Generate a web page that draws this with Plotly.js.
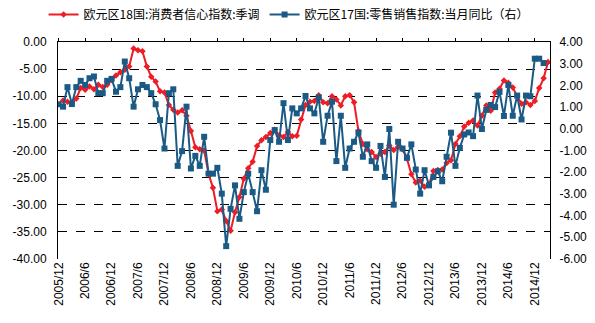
<!DOCTYPE html>
<html>
<head>
<meta charset="utf-8">
<script src="https://cdn.plot.ly/plotly-3.0.1.min.js"></script>
<style>html,body{margin:0;padding:0;background:#fff}#chart{width:595px;height:323px}</style>
</head>
<body>
<div id="chart"></div>
<script>
// Months from 2005/12 to 2015/3
const months = [];
for (let y = 2005, m = 12; y < 2015 || (y === 2015 && m <= 3); ) {
  months.push(y + '/' + m);
  m++; if (m > 12) { m = 1; y++; }
}
// Consumer confidence (left axis), starts 2006/1
const confidence = [null,
 -10.8,-11.0,-11.4,-10.4,-8.5,-8.8,-8.2,-8.7,-7.9,-8.3,-7.9,-7.0,
 -6.2,-5.6,-5.1,-4.5,-1.2,-1.5,-1.7,-4.5,-6.4,-7.3,-9.1,-9.3,
 -11.6,-12.5,-13.0,-12.6,-13.6,-16.4,-19.4,-19.8,-20.0,-24.3,-26.9,-31.2,
 -30.9,-33.0,-34.8,-31.4,-28.6,-25.2,-23.3,-22.1,-19.2,-18.1,-17.5,-16.8,
 -16.2,-17.2,-17.5,-16.6,-17.4,-17.3,-14.3,-11.6,-11.0,-10.9,-9.8,-11.1,
 -11.3,-10.0,-10.6,-11.7,-10.0,-9.8,-11.1,-16.4,-18.8,-19.8,-20.3,-21.2,
 -20.6,-20.3,-19.1,-19.9,-19.3,-19.8,-21.5,-24.4,-25.9,-25.6,-26.7,-26.3,
 -23.8,-23.6,-23.5,-22.3,-21.8,-18.8,-17.4,-15.6,-14.9,-14.5,-15.4,-13.6,
 -11.7,-12.7,-9.3,-8.6,-7.1,-7.5,-8.4,-10.0,-11.4,-11.1,-11.6,-10.9,
 -8.5,-6.7,-3.7];
// Retail sales YoY (right axis), 2005/12 to 2015/2
const retail = [
 1.13,1.02,1.92,1.14,1.92,2.21,2.02,2.33,2.41,1.64,1.64,2.21,
 2.30,1.71,1.92,3.10,2.33,1.02,1.82,2.02,1.92,1.64,1.13,0.40,
 -0.91,1.64,1.82,-1.71,-1.03,1.02,-1.83,-1.25,-1.71,-0.37,-2.07,-2.07,
 -1.80,-2.99,-5.41,-3.69,-2.61,-4.15,-2.92,-2.07,-2.92,-3.80,-1.91,-2.81,
 -0.52,-0.06,-0.60,1.18,-0.52,0.94,0.71,0.94,1.51,0.94,0.71,1.44,
 -0.60,0.60,1.25,-1.49,0.60,-1.80,-0.91,-0.60,-0.17,-1.29,-0.72,-1.49,
 -1.80,-0.79,-2.22,-0.01,-3.50,-0.60,-0.91,-1.34,-0.72,-1.88,-2.99,-1.91,
 -2.61,-2.22,-1.96,-2.42,-1.29,-0.18,-1.71,-0.88,-0.26,-0.17,-0.34,1.53,
 -0.01,0.87,1.10,1.00,1.70,0.59,2.02,0.60,1.53,0.43,1.53,1.50,
 3.23,3.23,3.03];
const tickLabels = ['2005/12','2006/6','2006/12','2007/6','2007/12','2008/6','2008/12','2009/6','2009/12','2010/6','2010/12','2011/6','2011/12','2012/6','2012/12','2013/6','2013/12','2014/6','2014/12'];
const leftTicks = [0,-5,-10,-15,-20,-25,-30,-35,-40];
const rightTicks = [4,3,2,1,0,-1,-2,-3,-4,-5,-6];
const names = ['欧元区18国:消费者信心指数:季调','欧元区17国:零售销售指数:当月同比（右）'];

const RED = '#ee1c25', BLUE = '#1a5a84';
const idx = months.map((_, i) => i);
const tickIdx = tickLabels.map(t => months.indexOf(t));
const xr = [-0.15, 111.45];

const traces = [
 {x: idx, y: confidence, name: names[0], type: 'scatter', mode: 'lines+markers',
  line: {color: RED, width: 2}, marker: {symbol: 'diamond', size: 5, color: RED}, yaxis: 'y', xaxis: 'x'},
 {x: idx.slice(0, retail.length), y: retail, name: names[1], type: 'scatter', mode: 'lines+markers',
  line: {color: BLUE, width: 2}, marker: {symbol: 'square', size: 6, color: BLUE}, yaxis: 'y2', xaxis: 'x'}
];

const tickFont = {family: 'Liberation Sans, Arial, sans-serif', size: 12, color: '#000'};
const layout = {
  width: 595, height: 323,
  margin: {l: 58, r: 45, t: 42, b: 64, pad: 0},
  paper_bgcolor: '#fff', plot_bgcolor: '#fff',
  showlegend: true,
  legend: {orientation: 'h', x: 0.485, xanchor: 'center', xref: 'container', y: 1, yanchor: 'top', yref: 'container',
           font: {family: 'Noto Sans CJK SC, sans-serif', size: 12, color: '#000'}, itemwidth: 30, tracegroupgap: 0,
           bgcolor: 'rgba(0,0,0,0)'},
  xaxis: {range: xr, tickmode: 'array', tickvals: tickIdx, ticktext: tickLabels, tickangle: -90,
          showline: false, showgrid: false, zeroline: false, ticks: '', tickfont: {family: 'Liberation Sans, Arial, sans-serif', size: 12, color: '#000'}},
  xaxis2: {range: xr, overlaying: 'x', side: 'top', anchor: 'y', tickmode: 'array', tickvals: tickIdx,
           showticklabels: false, showline: true, linecolor: '#000', linewidth: 1, ticks: 'outside', ticklen: 3,
           tickcolor: '#000', showgrid: false, zeroline: false},
  yaxis: {range: [-40.02, 0], tickmode: 'array', tickvals: leftTicks, ticktext: leftTicks.map(v => v.toFixed(2)),
          showline: true, linecolor: '#000', linewidth: 1, ticks: '', showgrid: true, gridcolor: '#000', gridwidth: 1,
          griddash: 'dash', zeroline: false, tickfont: tickFont, ticklabelstandoff: 8},
  yaxis2: {range: [-6.003, 4], overlaying: 'y', side: 'right', tickmode: 'array', tickvals: rightTicks,
           ticktext: rightTicks.map(v => v.toFixed(2)), showline: true, linecolor: '#000', linewidth: 1, ticks: '',
           showgrid: false, zeroline: false, tickfont: tickFont, ticklabelstandoff: 6}
};
// invisible helper trace so the top axis (with tick marks) is drawn
traces.push({x: [0], y: [0], xaxis: 'x2', yaxis: 'y', mode: 'markers', marker: {opacity: 0}, showlegend: false, hoverinfo: 'skip'});
Plotly.newPlot('chart', traces, layout, {displayModeBar: false, staticPlot: true});
</script>
</body>
</html>
